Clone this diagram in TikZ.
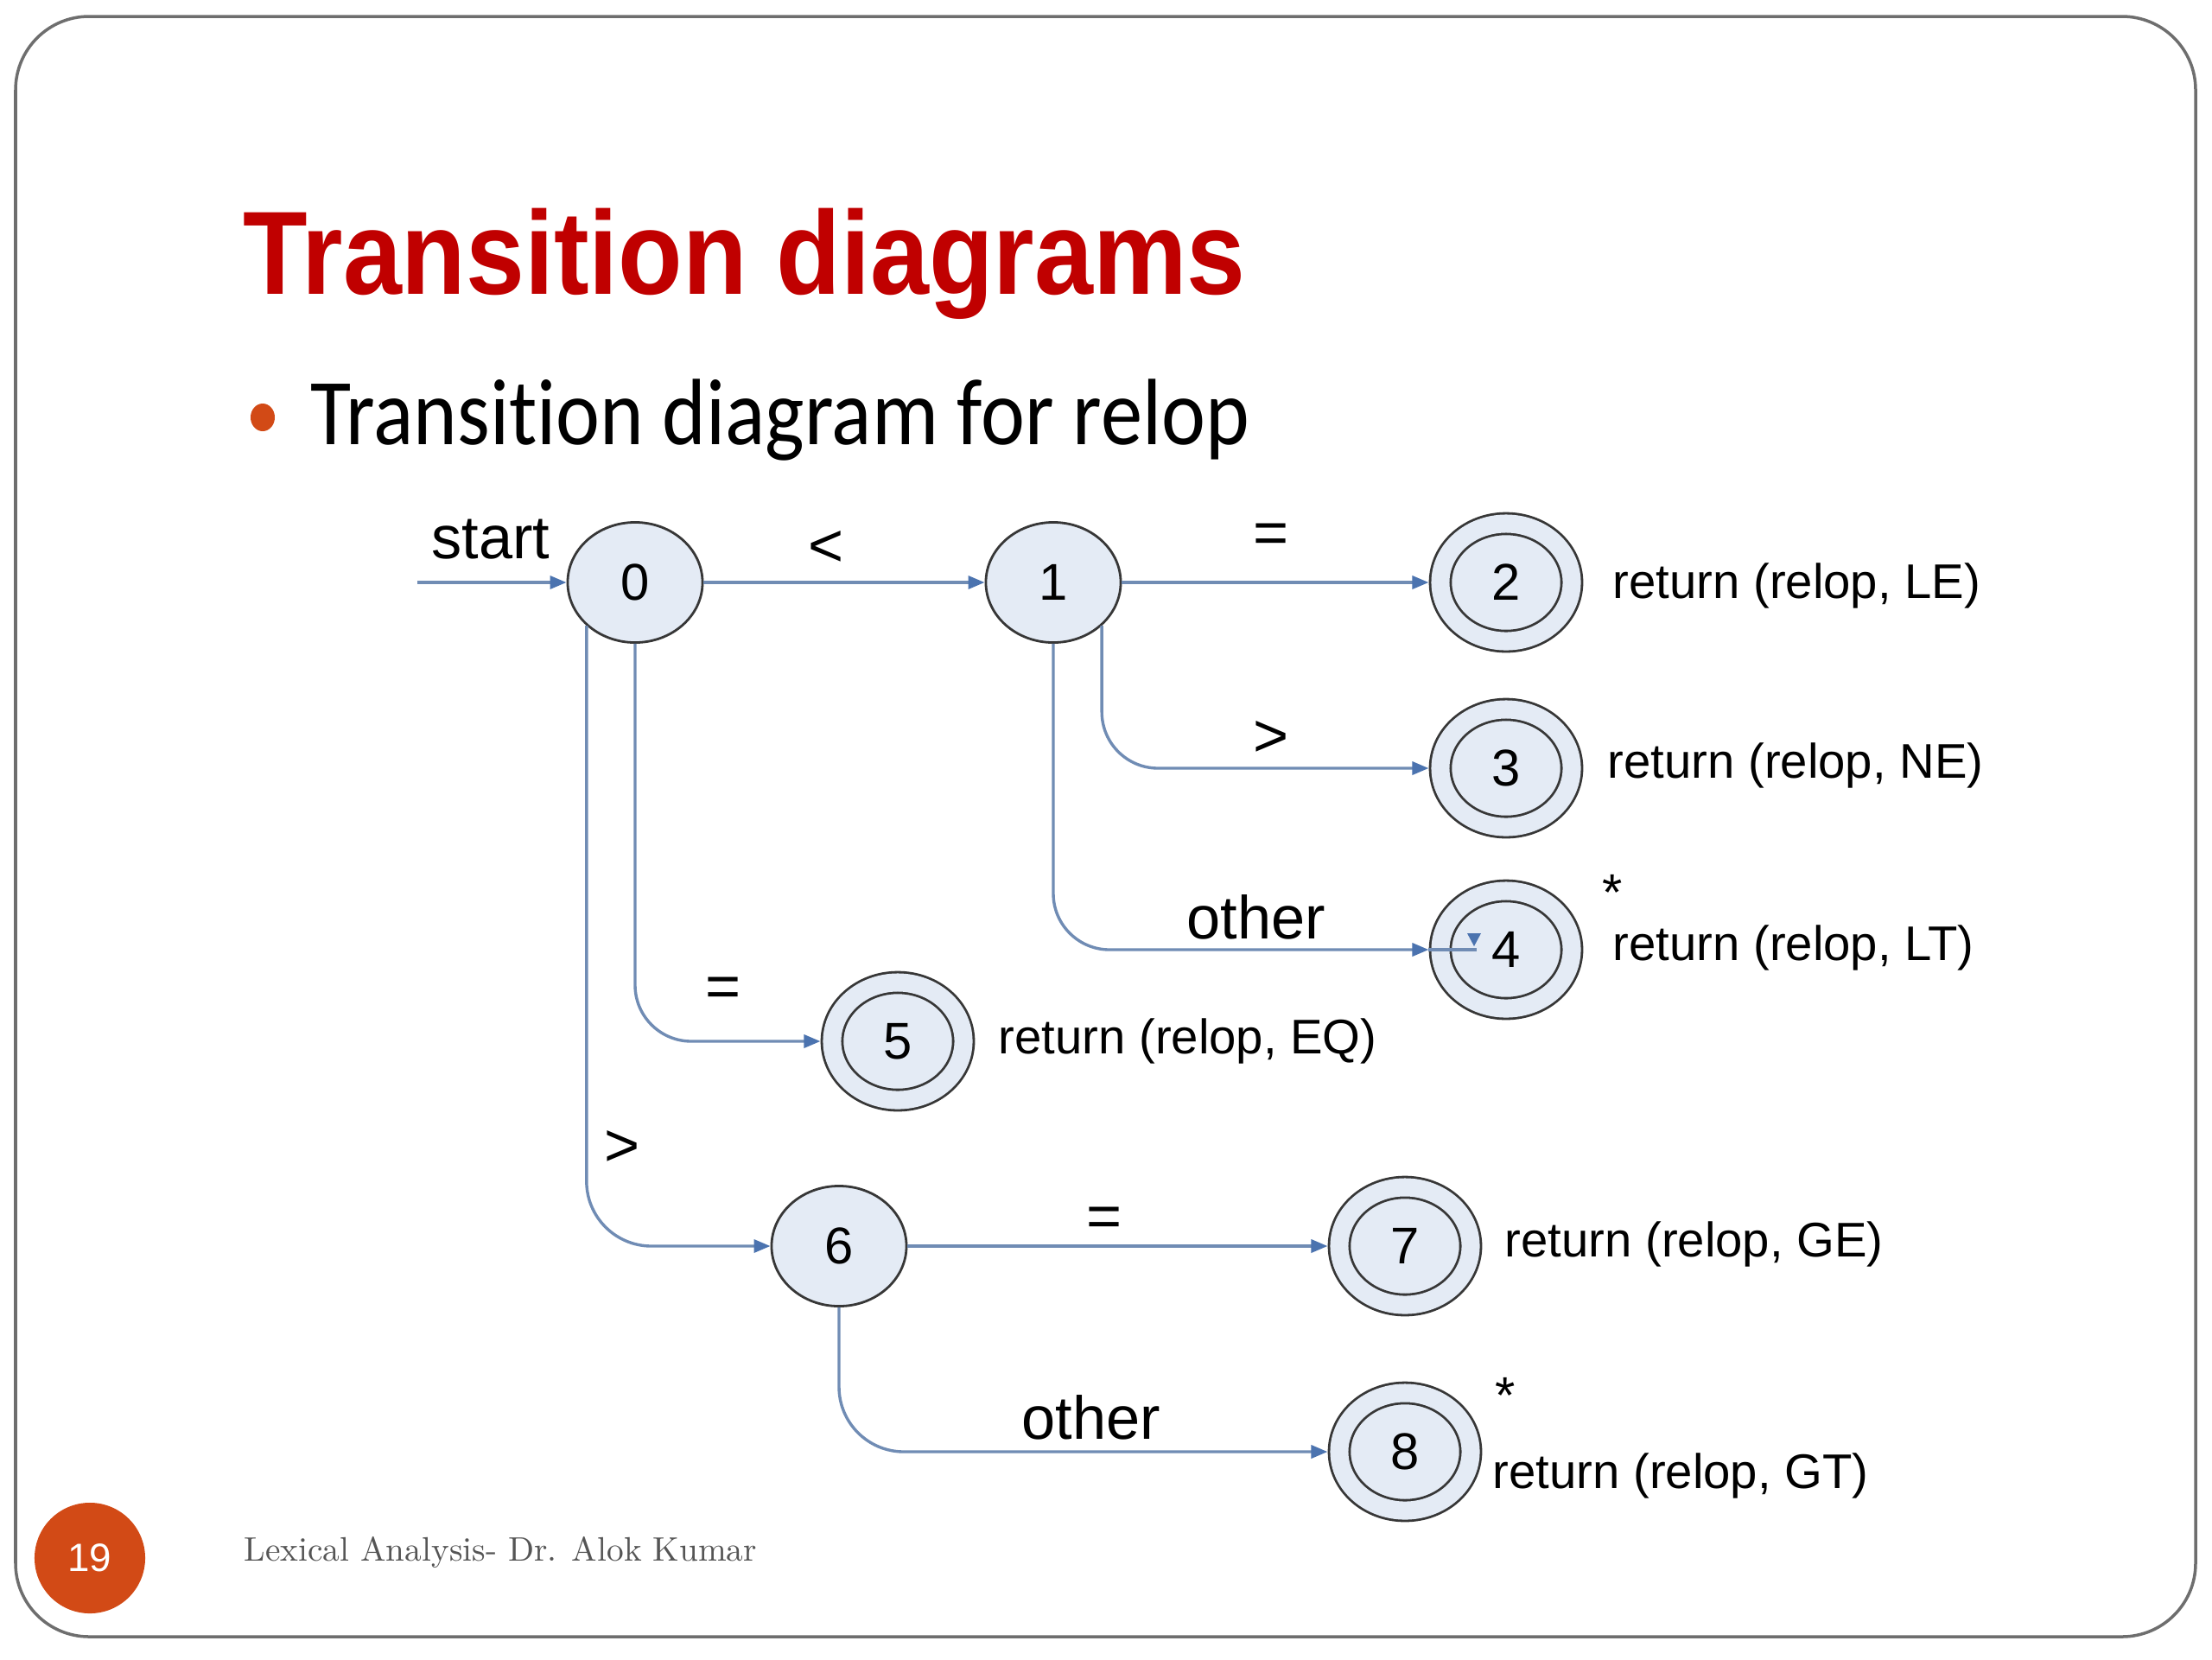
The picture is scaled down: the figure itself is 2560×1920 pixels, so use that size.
\documentclass[tikz,border=0pt]{standalone}
\usepackage{fontspec}
\usepackage{graphicx}
\newfontfamily\arialf{Liberation Sans}
\newfontfamily\calib[Ligatures=NoCommon]{Carlito}
\usetikzlibrary{shapes.geometric,arrows.meta}
\definecolor{titlered}{RGB}{192,0,0}
\definecolor{accent}{RGB}{210,74,22}
\definecolor{edgecol}{RGB}{112,140,180}
\definecolor{headcol}{RGB}{75,115,175}
\definecolor{nodefill}{RGB}{228,235,245}
\definecolor{nodeline}{RGB}{55,55,55}
\definecolor{footgray}{RGB}{85,85,85}
\definecolor{framegray}{RGB}{110,110,110}
\begin{document}
\begin{tikzpicture}[x=0.01cm,y=-0.01cm,
  state/.style={ellipse, draw=nodeline, fill=nodefill, line width=0.028cm,
    minimum width=1.56cm, minimum height=1.39cm, inner sep=0pt,
    font=\arialf\fontsize{17pt}{17pt}\selectfont},
  accepting/.style={ellipse, draw=nodeline, fill=nodefill, line width=0.028cm,
    double=nodefill, double distance=0.21cm,
    minimum width=1.52cm, minimum height=1.36cm, inner sep=0pt, outer sep=0.135cm,
    font=\arialf\fontsize{17pt}{17pt}\selectfont},
  edge/.style={draw=edgecol, line width=0.034cm,
    -{Triangle[length=0.19cm,width=0.15cm,color=headcol]}},
  lbl/.style={inner sep=0pt, font=\arialf\fontsize{20pt}{20pt}\selectfont},
  ret/.style={inner sep=0pt, anchor=base west, font=\arialf\fontsize{16pt}{16pt}\selectfont},
  star/.style={inner sep=0pt, font=\arialf\fontsize{17pt}{17pt}\selectfont}]

\fill[white] (0,0) rectangle (2560,1920);
\useasboundingbox (0,0) rectangle (2560,1920);
\draw[framegray, line width=0.035cm, rounded corners=0.85cm] (18,19) rectangle (2541,1894);

% title and bullet
\node[anchor=base west, inner sep=0pt, text=titlered] (title) at (281,340)
  {\scalebox{0.89}[1]{\arialf\bfseries\fontsize{39pt}{39pt}\selectfont Transition diagrams}};
\node[ellipse, fill=accent, minimum width=0.28cm, minimum height=0.32cm, inner sep=0pt] (bullet) at (304,483) {};
\node[anchor=base west, inner sep=0pt] (sub) at (359,514)
  {\scalebox{0.885}[1]{\calib\fontsize{31pt}{31pt}\selectfont Transit\kern0pt ion diagram for relop}};

% states
\node[state] (n0) at (735,674) {0};
\node[state] (n1) at (1219,674) {1};
\node[accepting] (n2) at (1743,674) {2};
\node[accepting] (n3) at (1743,889) {3};
\node[accepting] (n4) at (1743,1099) {4};
\node[accepting] (n5) at (1039,1205) {5};
\node[state] (n6) at (971,1442) {6};
\node[accepting] (n7) at (1626,1442) {7};
\node[accepting] (n8) at (1626,1680) {8};

% connectors
\coordinate (startpt) at (483,674);
\draw[edge] (startpt) -- (n0);
\draw[edge] (n0) -- (n1);
\draw[edge] (n1) -- (n2);
\draw[edge, rounded corners=0.65cm] (n1.south east) |- (n3.west);
\draw[edge, rounded corners=0.65cm] (n1.south) |- (n4.west);
\draw[edge, rounded corners=0.65cm] (n0.south) |- (n5.west);
\draw[edge, rounded corners=0.75cm] (n0.south west) |- (n6.west);
\draw[edge] (n6) -- (n7);
\draw[edge, rounded corners=0.75cm] (n6.south) |- (n8.west);
% small stray mark inside state 4
\coordinate (a4) at (1709,1099);
\draw[draw=edgecol, line width=0.034cm] (n4.west) -- (a4);
\fill[headcol] (1698,1080) -- (1714,1080) -- (1706,1095) -- cycle;

% edge labels
\node[lbl, anchor=base west] (lstart) at (499,646) {start};
\node[lbl] (llt) at (956,635) {<};
\node[lbl] (leq2) at (1471,623) {=};
\node[lbl] (lgt3) at (1471,855) {>};
\node[lbl, anchor=base west] (loth4) at (1373,1086) {other};
\node[lbl] (leq5) at (837,1148) {=};
\node[lbl] (lgt6) at (720,1329) {>};
\node[lbl] (leq7) at (1278,1414) {=};
\node[lbl, anchor=base west] (loth8) at (1182,1665) {other};

% return labels
\node[ret] (r2) at (1866,692) {return (relop, LE)};
\node[ret] (r3) at (1860,900) {return (relop, NE)};
\node[star] (s4) at (1866,1033) {*};
\node[ret] (r4) at (1866,1111) {return (relop, LT)};
\node[ret] (r5) at (1155,1219) {return (relop, EQ)};
\node[ret] (r7) at (1741,1454) {return (relop, GE)};
\node[star] (s8) at (1742,1615) {*};
\node[ret] (r8) at (1727,1722) {return (relop, GT)};

% footer
\node[circle, fill=accent, minimum size=1.28cm, inner sep=0pt, text=white,
  font=\arialf\fontsize{13pt}{13pt}\selectfont] (pg) at (104,1803) {19};
\node[anchor=base west, inner sep=0pt, text=footgray] (foot) at (282,1806)
  {\resizebox{5.93cm}{!}{Lexical Analysis- Dr. Alok Kumar}};
\end{tikzpicture}
\end{document}
